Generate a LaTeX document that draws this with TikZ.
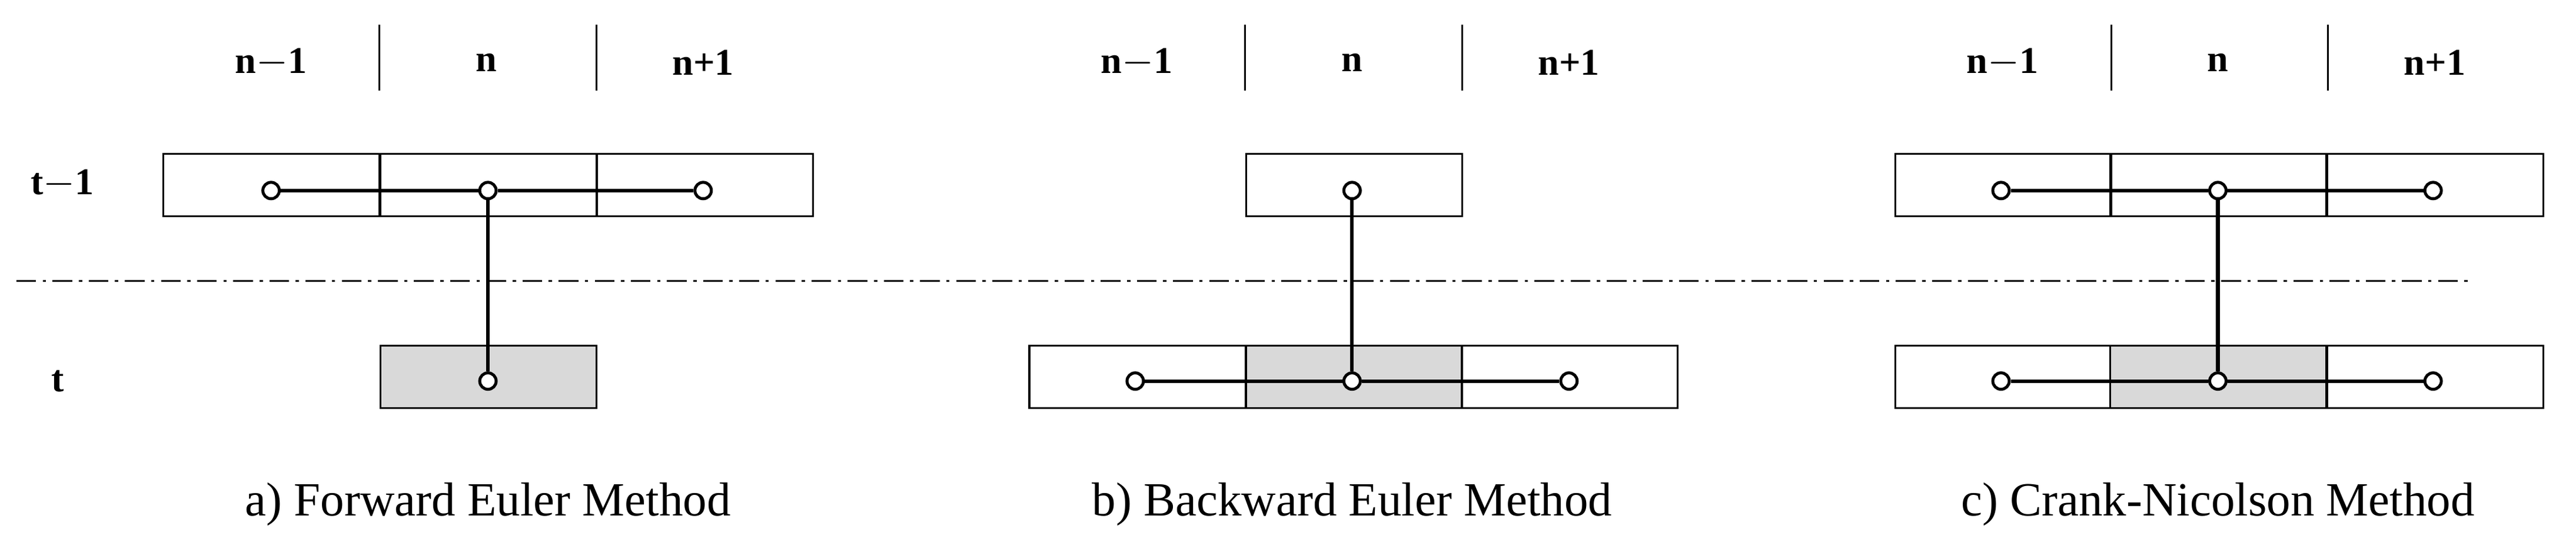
\documentclass[tikz,border=0pt]{standalone}
\usepackage{fontspec}
\setmainfont{Liberation Serif}
\begin{document}
\begin{tikzpicture}[x=1pt,y=-1pt,
  cell/.style={draw,line width=1.1pt,minimum width=131.5pt,minimum height=38pt,inner sep=0pt,anchor=north west},
  sh/.style={cell,fill=gray!30},
  pt/.style={circle,draw,line width=1.8pt,fill=white,minimum size=10pt,inner sep=0pt},
  hd/.style={font=\fontsize{23}{25}\selectfont\bfseries},
  capt/.style={font=\fontsize{29}{31}\selectfont},
  ln/.style={line width=2.2pt}]
\useasboundingbox (0,0) rectangle (1568,340);
\node[hd] (ta) at (38,112) {t$-$1};
\node[hd] (tb) at (35,232) {t};
\draw[line width=1pt,dash pattern=on 12pt off 4pt on 2pt off 4pt] (10,171) coordinate (d1) -- (1505,171) coordinate (d2);
\foreach \p/\x in {a/99,b/626,c/1153}{
  \node[hd] (h1\p) at (\x+66,38) {n$-$1};
  \node[hd] (h2\p) at (\x+197,38) {n};
  \node[hd] (h3\p) at (\x+329,38) {n+1};
  \draw[line width=1.1pt] (\x+132,15) coordinate (s1\p) -- (\x+132,55) coordinate (s2\p);
  \draw[line width=1.1pt] (\x+264,15) coordinate (s3\p) -- (\x+264,55) coordinate (s4\p);
}
% a
\node[cell] (a11) at (99,93) {};\node[cell] (a12) at (231,93) {};\node[cell] (a13) at (363,93) {};
\node[sh] (a22) at (231,210) {};
\node[pt] (pa1) at (165,116) {};\node[pt] (pa2) at (297,116) {};\node[pt] (pa3) at (428,116) {};
\node[pt] (pa4) at (297,232) {};
\draw[ln] (pa1)--(pa2)--(pa3); \draw[ln] (pa2)--(pa4);
\node[capt] (ca) at (297,307) {a) Forward Euler Method};
% b
\node[cell] (b12) at (758,93) {};
\node[cell] (b21) at (626,210) {};\node[sh] (b22) at (758,210) {};\node[cell] (b23) at (889,210) {};
\node[pt] (pb1) at (823,116) {};
\node[pt] (pb2) at (691,232) {};\node[pt] (pb3) at (823,232) {};\node[pt] (pb4) at (955,232) {};
\draw[ln] (pb2)--(pb3)--(pb4); \draw[ln] (pb1)--(pb3);
\node[capt] (cb) at (823,307) {b) Backward Euler Method};
% c
\node[cell] (c11) at (1153,93) {};\node[cell] (c12) at (1284,93) {};\node[cell] (c13) at (1416,93) {};
\node[cell] (c21) at (1153,210) {};\node[sh] (c22) at (1284,210) {};\node[cell] (c23) at (1416,210) {};
\node[pt] (pc1) at (1218,116) {};\node[pt] (pc2) at (1350,116) {};\node[pt] (pc3) at (1481,116) {};
\node[pt] (pc4) at (1218,232) {};\node[pt] (pc5) at (1350,232) {};\node[pt] (pc6) at (1481,232) {};
\draw[ln] (pc1)--(pc2)--(pc3); \draw[ln] (pc4)--(pc5)--(pc6); \draw[ln] (pc2)--(pc5);
\node[capt] (cc) at (1350,307) {c) Crank-Nicolson Method};
\end{tikzpicture}
\end{document}
